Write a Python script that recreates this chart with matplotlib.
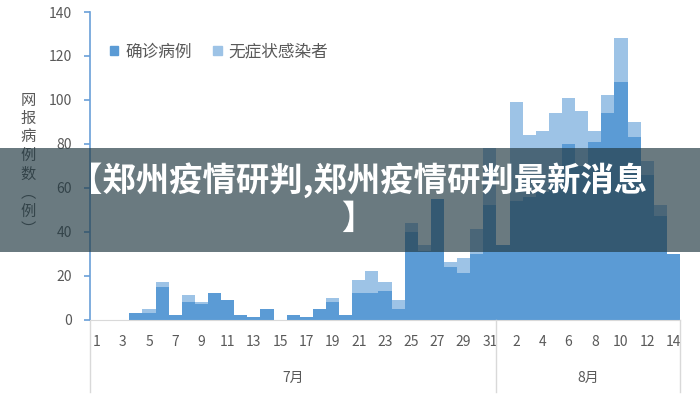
import numpy as np
import matplotlib
matplotlib.use("Agg")
import matplotlib.pyplot as plt
from matplotlib.patches import Patch, Rectangle

plt.rcParams['font.family'] = ['Noto Sans CJK SC', 'DejaVu Sans']

# 7月1日 - 8月14日
day_numbers = list(range(1, 32)) + list(range(1, 15))
months = ['7月', '8月']
series_names = ['确诊病例', '无症状感染者']

confirmed = [0, 0, 0, 3, 3, 15, 2, 8, 7, 12, 9, 2, 1, 5, 0, 2, 1, 5, 8, 2,
             12, 12, 13, 5, 40, 31, 55, 24, 21, 30, 52,
             34, 54, 56, 58, 62, 80, 70, 81, 94, 108, 83, 66, 47, 30]
asymptomatic = [0, 0, 0, 0, 2, 2, 0, 3, 1, 0, 0, 0, 0, 0, 0, 0, 0, 0, 2, 0,
                6, 10, 4, 4, 4, 3, 0, 2, 7, 11, 26,
                0, 45, 28, 28, 32, 21, 25, 5, 8, 20, 7, 6, 5, 0]

title = '【郑州疫情研判,郑州疫情研判最新消息'
title_tail = '】'
ylabel_chars = ['网', '报', '病', '例', '数', '︵', '例', '︶']

c_conf = '#5b9bd5'
c_asym = '#9dc3e6'
gray = '#595959'
axis_blue = '#6a9fd8'

fig = plt.figure(figsize=(7, 4), dpi=100)
ax = fig.add_axes([90 / 700, 80.5 / 400, 590 / 700, 307.5 / 400])

x = np.arange(len(day_numbers))
ax.bar(x, confirmed, width=1.0, color=c_conf, linewidth=0)
ax.bar(x, asymptomatic, bottom=confirmed, width=1.0, color=c_asym, linewidth=0)

ax.set_xlim(-0.5, len(day_numbers) - 0.5)
ax.set_ylim(0, 140)
ax.set_yticks(range(0, 141, 20))

tick_pos = [i for i in x if day_numbers[i] % 2 == (1 if i < 31 else 0)]
ax.set_xticks(tick_pos)
ax.set_xticklabels([str(day_numbers[i]) for i in tick_pos])

ax.tick_params(axis='x', length=0, pad=11, labelsize=10, labelcolor=gray)
ax.tick_params(axis='y', direction='out', length=4, width=1.2, color=axis_blue,
               pad=9, labelsize=10, labelcolor=gray)

for s in ['top', 'right']:
    ax.spines[s].set_visible(False)
ax.spines['bottom'].set_color('#d9d9d9')
ax.spines['left'].set_color(axis_blue)
ax.spines['left'].set_linewidth(1.2)

# 月份分组标签和分隔线
trans = ax.get_xaxis_transform()
for xs in [-0.5, 30.5, len(day_numbers) - 0.5]:
    ax.plot([xs, xs], [0, -0.236], color='#d9d9d9', lw=1, transform=trans, clip_on=False)
ax.text(15, -0.19, months[0], transform=trans, ha='center', va='center', fontsize=10, color=gray)
ax.text(37.5, -0.19, months[1], transform=trans, ha='center', va='center', fontsize=10, color=gray)

# 竖排坐标轴标题
for k, ch in enumerate(ylabel_chars):
    fig.text(28 / 700, 1 - (100 + 18.5 * k) / 400, ch, ha='center', va='center',
             fontsize=11, color=gray)

handles = [Patch(color=c_conf, label=series_names[0]),
           Patch(color=c_asym, label=series_names[1])]
fig.legend(handles=handles, ncol=2, frameon=False, fontsize=12, labelcolor=gray,
           loc='center left', bbox_to_anchor=(110 / 700, 1 - 52 / 400),
           borderaxespad=0, borderpad=0, handlelength=0.5, handleheight=0.5,
           handletextpad=0.4, columnspacing=1.3)

# 标题横幅
fig.add_artist(Rectangle((0, 148 / 400), 1, 104 / 400, transform=fig.transFigure,
                         facecolor='#213942', alpha=0.67, edgecolor='none', zorder=10))
fig.text(358 / 700, 1 - 180 / 400, title, ha='center', va='center', fontsize=24,
         fontweight='bold', color='white', zorder=11)
fig.text(358 / 700, 1 - 219 / 400, title_tail, ha='center', va='center', fontsize=24,
         fontweight='bold', color='white', zorder=11)

fig.savefig('out.png', dpi=100)
